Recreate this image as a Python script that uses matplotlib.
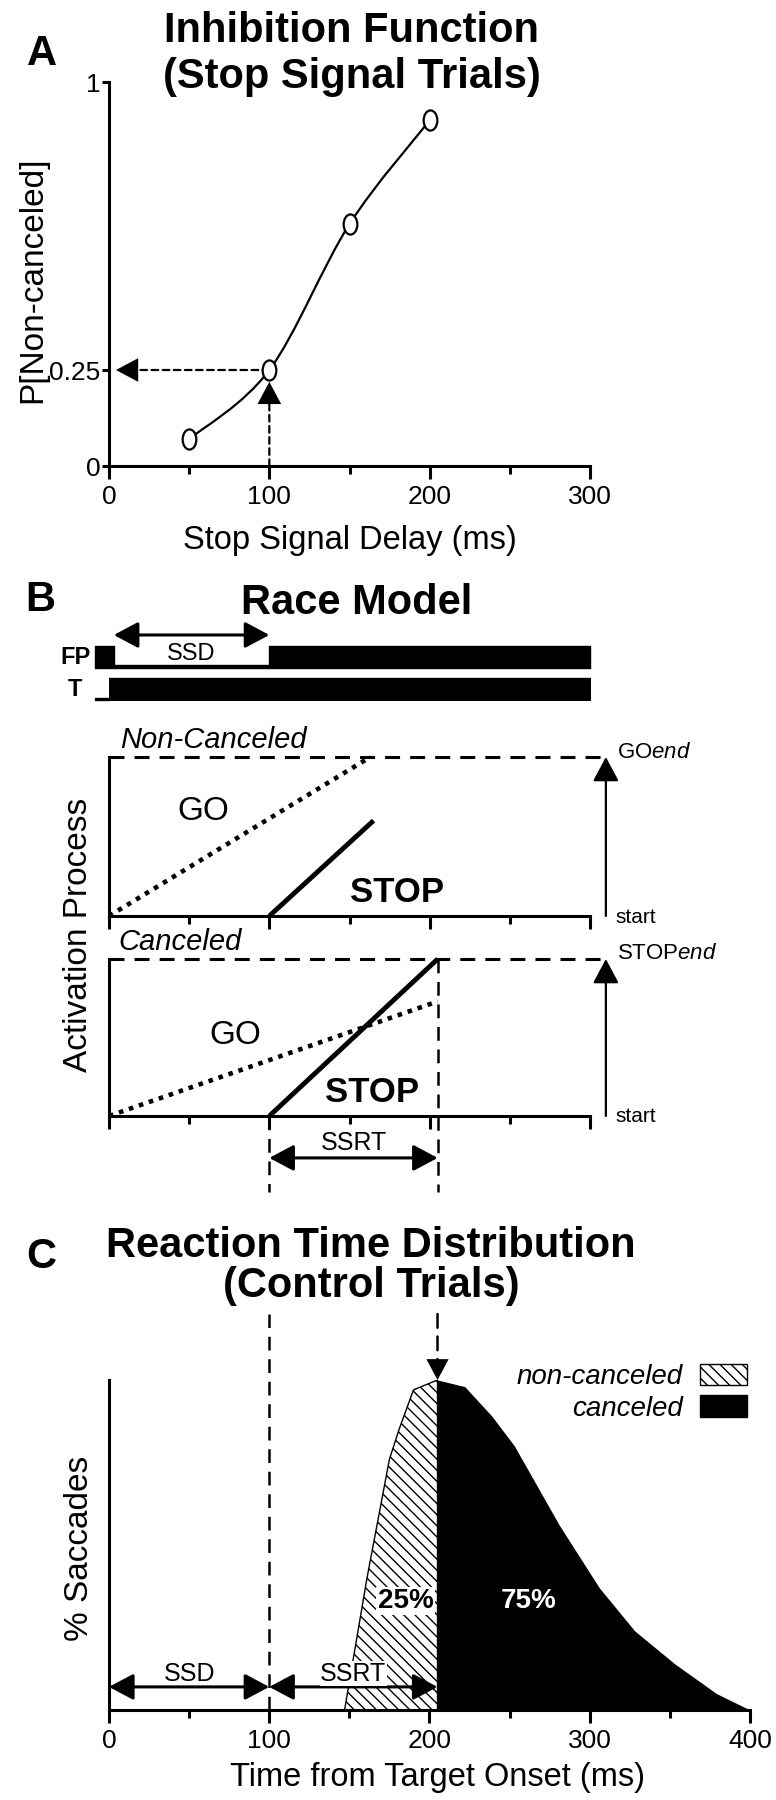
import numpy as np
import matplotlib
matplotlib.use('Agg')
import matplotlib.pyplot as plt
from matplotlib.path import Path
from matplotlib.patches import PathPatch, Patch
from matplotlib.transforms import Affine2D, blended_transform_factory
from matplotlib.ticker import FixedLocator

plt.rcParams['font.family'] = ['Liberation Sans', 'DejaVu Sans']
plt.rcParams['mathtext.fontset'] = 'custom'
plt.rcParams['mathtext.rm'] = 'Liberation Sans'
plt.rcParams['mathtext.it'] = 'Liberation Sans:italic'
plt.rcParams['hatch.linewidth'] = 1.0

# --- A: inhibition function
ssd_values = [50, 100, 150, 200]
p_noncanceled = [0.07, 0.25, 0.63, 0.90]
ssd = 100
p_mark = 0.25

# --- B: race model (times in ms, activation 0=start, 1=threshold)
fp_on = [(-9, 12), (100, 200)]
target_on = [(0, 300)]
go_nc_t, go_nc_a = [0, 163], [0, 1.0]
stop_nc_t, stop_nc_a = [100, 165], [0, 0.60]
go_c_t, go_c_a = [0, 205], [0, 0.73]
stop_c_t, stop_c_a = [100, 205], [0, 1.0]
ssrt_end = 205

# --- C: RT distribution of control trials (fraction of peak)
rt_time = [147, 161, 175, 181, 190, 205, 222, 239, 253, 281, 306, 328, 353, 379, 400]
rt_frac = [0.0, 0.40, 0.76, 0.85, 0.97, 1.0, 0.98, 0.89, 0.80, 0.56, 0.37, 0.24, 0.14, 0.05, 0.0]

W, H = 776, 1800
fig = plt.figure(figsize=(W / 100, H / 100), dpi=100)


def box(l, t, r, b):
    return fig.add_axes([l / W, 1 - b / H, (r - l) / W, (b - t) / H])


def put(x, y, s, **kw):
    return fig.text(x / W, 1 - y / H, s, **kw)


def time_axis(ax, majors, minors, labels=True):
    for s in ['top', 'right']:
        ax.spines[s].set_visible(False)
    for s in ['left', 'bottom']:
        ax.spines[s].set_linewidth(2.2)
        ax.spines[s].set_capstyle('projecting')
    ax.xaxis.set_major_locator(FixedLocator(majors))
    ax.xaxis.set_minor_locator(FixedLocator(minors))
    ax.tick_params(axis='x', which='major', length=9.5, width=2.2, labelsize=19, pad=4)
    ax.tick_params(axis='x', which='minor', length=5.5, width=2.2)
    if not labels:
        ax.tick_params(axis='x', labelbottom=False)
    ax.tick_params(axis='y', length=0)
    ax.set_yticks([])


def smooth_path(xs, ys):
    # catmull-rom through the measured points
    pts = np.column_stack([xs, ys]).astype(float)
    ext = np.vstack([pts[0], pts, pts[-1]])
    verts, codes = [pts[0]], [Path.MOVETO]
    for i in range(len(pts) - 1):
        p0, p1, p2, p3 = ext[i], ext[i + 1], ext[i + 2], ext[i + 3]
        verts += [p1 + (p2 - p0) / 6, p2 - (p3 - p1) / 6, p2]
        codes += [Path.CURVE4] * 3
    return Path(verts, codes)


def head(style, lw=1.6, ls='-', **kw):
    d = dict(arrowstyle=style, mutation_scale=1, color='k', lw=lw, linestyle=ls,
             shrinkA=0, shrinkB=0)
    d.update(kw)
    return d


def dashed_arrow(ax, tip, tail, gap, hl=16, hw=8.5, lw=1.6, ls=(0, (3, 2)), **kw):
    # dashed shaft that stops inside a solid head
    ax.annotate('', xy=tip, xytext=tail, annotation_clip=False,
                arrowprops=head('-', lw=lw, ls=ls, shrinkB=gap + hl * 0.7), **kw)
    ax.annotate('', xy=tip, xytext=tail, annotation_clip=False,
                arrowprops=head(f'-|>,head_length={hl},head_width={hw}', lw=0.01,
                                shrinkB=gap), **kw)


TWO = '<|-|>,head_length=15,head_width=8'
VDASH = (0, (5.5, 3.5))
TDASH = (0, (4.9, 3.3))
DOTS = (0, (1, 1.3))

# ================= A =================
axA = box(109, 82, 590, 466)
axA.set_xlim(0, 300)
axA.set_ylim(0, 1)
time_axis(axA, [0, 100, 200, 300], [50, 150, 250])
axA.set_yticks([0, 0.25, 1])
axA.set_yticklabels(['0', '0.25', '1'])
axA.tick_params(axis='y', length=5, width=2.2, labelsize=19, pad=1)
axA.add_patch(PathPatch(smooth_path(ssd_values, p_noncanceled), fill=False, lw=1.6, color='k'))
oval = Path.unit_circle().transformed(Affine2D().scale(0.68, 1.0))
axA.plot(ssd_values, p_noncanceled, ls='none', marker=oval, ms=14.5, mfc='white',
         mec='k', mew=1.6, zorder=5, clip_on=False)
dashed_arrow(axA, (0, p_mark), (ssd, p_mark), gap=5)
dashed_arrow(axA, (ssd, p_mark), (ssd, 0), gap=8.5)

put(42, 54, 'A', size=30, weight='bold', ha='center', va='center')
put(352, 42, 'Inhibition Function', size=30, weight='bold', ha='center', va='baseline')
put(352, 88, '(Stop Signal Trials)', size=30, weight='bold', ha='center', va='baseline')
put(41, 280, 'P[Non-canceled]', size=24, rotation=90, ha='center', va='baseline',
    rotation_mode='anchor')
put(350, 549, 'Stop Signal Delay (ms)', size=23.5, ha='center', va='baseline')

# ================= B =================
put(40, 600, 'B', size=30, weight='bold', ha='center', va='center')
put(357, 614, 'Race Model', size=30, weight='bold', ha='center', va='baseline')

axT = box(109, 646, 590, 700)
axT.set_xlim(0, 300)
axT.set_ylim(0, 2.45)
axT.axis('off')
axT.broken_barh(target_on, (0, 1), color='k')
axT.broken_barh([(fp_on[0][0], -fp_on[0][0])], (0, 0.1), color='k', clip_on=False)
axT.broken_barh(fp_on, (1.45, 1), color='k', clip_on=False)
fp_gap = (fp_on[0][0] + fp_on[0][1], fp_on[1][0])
axT.broken_barh([(fp_gap[0], fp_gap[1] - fp_gap[0])], (1.45, 0.14), color='k')
axT.annotate('', xy=(fp_gap[0], 2.95), xytext=(fp_gap[1], 2.95),
             arrowprops=head(TWO, lw=2.2), annotation_clip=False)
axT.text(sum(fp_gap) / 2, 2.1, 'SSD', size=17, ha='center', va='center')
put(91, 657, 'FP', size=17, weight='bold', ha='right', va='center')
put(75, 690, 'T', size=17, weight='bold', ha='center', va='center')


def race_panel(t, b, go_t, go_a, stop_t, stop_a):
    ax = box(109, t, 590, b)
    ax.set_xlim(0, 300)
    ax.set_ylim(0, 1)
    time_axis(ax, [0, 100, 200, 300], [50, 150, 250], labels=False)
    tr = blended_transform_factory(ax.transAxes, ax.transData)
    ax.plot([0, 1.03], [1, 1], transform=tr, color='k', lw=2.2, ls=TDASH, clip_on=False)
    ax.plot(go_t, go_a, color='k', lw=3.3, ls=DOTS, clip_on=False)
    ax.plot(stop_t, stop_a, color='k', lw=3.5, solid_capstyle='butt', clip_on=False)
    ax.annotate('', xy=(1.033, 1), xytext=(1.033, 0),
                xycoords=('axes fraction', 'data'), textcoords=('axes fraction', 'data'),
                arrowprops=head('-|>,head_length=15,head_width=8', lw=1.6),
                annotation_clip=False)
    return ax


axNC = race_panel(757, 916, go_nc_t, go_nc_a, stop_nc_t, stop_nc_a)
put(120, 740, 'Non-Canceled', size=21, style='italic', ha='left', va='center')
put(203, 812, 'GO', size=24, ha='center', va='center')
put(397, 892, 'STOP', size=25, weight='bold', ha='center', va='center')
put(617, 753, r'GO$\mathit{end}$', size=16, ha='left', va='center')
put(615, 917, 'start', size=15, ha='left', va='center')

axC = race_panel(959, 1116, go_c_t, go_c_a, stop_c_t, stop_c_a)
put(118, 942, 'Canceled', size=21, style='italic', ha='left', va='center')
put(235, 1035, 'GO', size=24, ha='center', va='center')
put(372, 1092, 'STOP', size=25, weight='bold', ha='center', va='center')
put(617, 953, r'STOP$\mathit{end}$', size=16, ha='left', va='center')
put(615, 1117, 'start', size=15, ha='left', va='center')

put(87, 935, 'Activation Process', size=24, rotation=90, ha='center', va='baseline',
    rotation_mode='anchor')

trC = blended_transform_factory(axC.transData, axC.transAxes)
axC.plot([ssd, ssd], [0, -0.484], transform=trC, color='k', lw=1.8, ls=VDASH, clip_on=False)
axC.plot([ssrt_end, ssrt_end], [1, -0.484], transform=trC, color='k', lw=1.8, ls=VDASH,
         clip_on=False)
axC.annotate('', xy=(ssrt_end, -0.267), xytext=(ssd, -0.267), xycoords=trC, textcoords=trC,
             arrowprops=head(TWO, lw=2.2), annotation_clip=False)
axC.text((ssd + ssrt_end) / 2, -0.17, 'SSRT', transform=trC, size=18, ha='center',
         va='center')

# ================= C =================
put(41, 1257, 'C', size=30, weight='bold', ha='center', va='center')
put(371, 1257, 'Reaction Time Distribution', size=30, weight='bold', ha='center',
    va='baseline')
put(371, 1297, '(Control Trials)', size=30, weight='bold', ha='center', va='baseline')

axR = box(109, 1380, 750, 1710)
axR.set_xlim(0, 400)
axR.set_ylim(0, 1)
time_axis(axR, [0, 100, 200, 300, 400], [50, 150, 250, 350])
t = np.array(rt_time, dtype=float)
f = np.array(rt_frac)
axR.fill_between(t, f, where=t <= ssrt_end, facecolor='white', hatch='\\\\\\',
                 edgecolor='k', lw=1.0)
axR.fill_between(t, f, where=t >= ssrt_end, color='k', lw=0)

trR = blended_transform_factory(axR.transData, axR.transAxes)
axR.plot([ssd, ssd], [0, 1.2], transform=trR, color='k', lw=1.8, ls=VDASH, clip_on=False)
dashed_arrow(axR, (ssrt_end, max(rt_frac)), (ssrt_end, 1.2), gap=0, hl=15, hw=8,
             lw=1.8, ls=VDASH, textcoords=trR)

arr_y = 0.07
axR.annotate('', xy=(0, arr_y), xytext=(ssd, arr_y), arrowprops=head(TWO, lw=2.2))
axR.annotate('', xy=(ssd, arr_y), xytext=(ssrt_end, arr_y), arrowprops=head(TWO, lw=2.2))
axR.text(ssd / 2, 0.11, 'SSD', size=18, ha='center', va='center')
axR.text((ssd + ssrt_end) / 2, 0.11, 'SSRT', size=18, ha='center', va='center',
         bbox=dict(facecolor='white', edgecolor='none', pad=0.5))
axR.text(185, 0.33, '25%', size=20, weight='bold', ha='center', va='center',
         bbox=dict(facecolor='white', edgecolor='none', pad=1))
axR.text(262, 0.33, '75%', size=20, weight='bold', color='white', ha='center',
         va='center')

handles = [Patch(facecolor='white', edgecolor='k', hatch='\\\\\\', lw=1.0),
           Patch(facecolor='k', edgecolor='k')]
axR.legend(handles, ['non-canceled', 'canceled'], loc='upper right',
           bbox_to_anchor=(0.995, 1.05), markerfirst=False, frameon=False,
           prop=dict(style='italic', size=20), handlelength=1.7, handleheight=0.8,
           handletextpad=0.6, labelspacing=0.2, borderaxespad=0, borderpad=0)

put(88, 1548, '% Saccades', size=24, rotation=90, ha='center', va='baseline',
    rotation_mode='anchor')
put(437, 1786, 'Time from Target Onset (ms)', size=23.5, ha='center', va='baseline')

fig.savefig('out.png', dpi=100)
